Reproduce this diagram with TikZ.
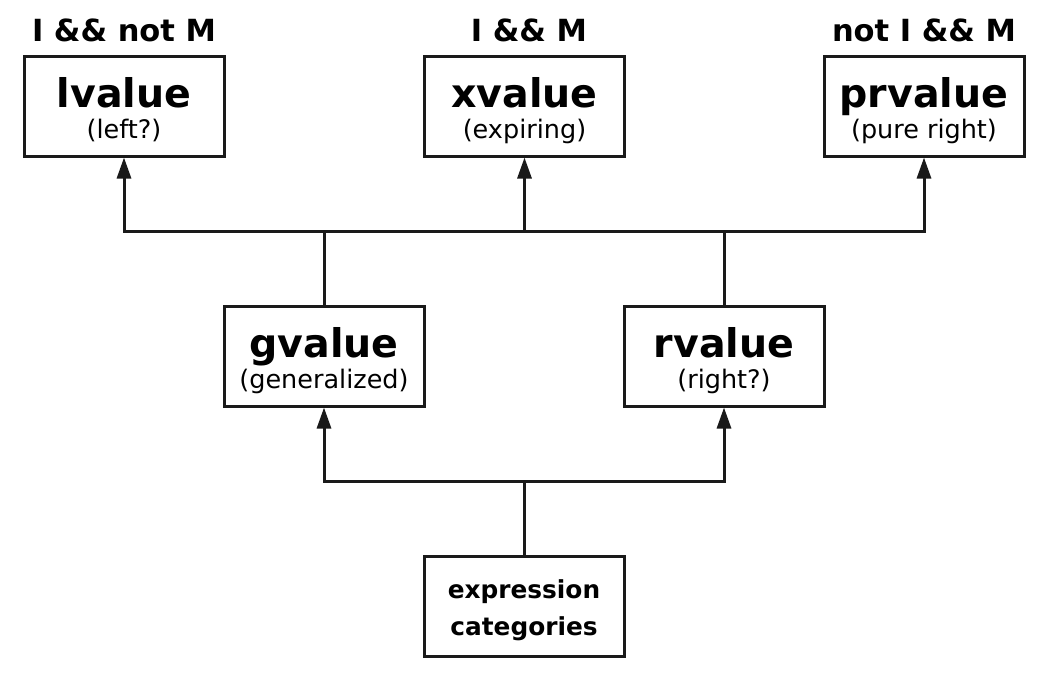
\documentclass[tikz,border=0pt]{standalone}
\usepackage{fontspec}
\setmainfont{DejaVu Sans}
\usetikzlibrary{arrows.meta}
\definecolor{ink}{HTML}{1A1A1A}
\tikzset{
  box/.style={draw=ink, line width=3pt, minimum width=200pt, minimum height=100pt, inner sep=0pt, fill=white},
  ttl/.style={anchor=base, inner sep=0pt, font=\fontsize{39.5}{44}\selectfont\bfseries},
  sub/.style={anchor=base, inner sep=0pt, font=\fontsize{25.5}{28}\selectfont},
  cond/.style={anchor=base, inner sep=0pt, font=\fontsize{30.5}{34}\selectfont\bfseries},
  small/.style={anchor=base, inner sep=0pt, font=\fontsize{24.8}{28}\selectfont\bfseries},
  wire/.style={draw=ink, line width=3pt, line cap=rect},
  arr/.style={wire, -{Triangle[length=21pt,width=14pt]}}
}
\begin{document}
\begin{tikzpicture}[x=1pt,y=-1pt]
\path[use as bounding box] (0,0) rectangle (1046,675);
% boxes
\node[box] (lv) at (124,106) {};
\node[box] (xv) at (524.5,106) {};
\node[box] (pr) at (924,106) {};
\node[box] (gv) at (324,356) {};
\node[box] (rv) at (724,356) {};
\node[box] (ec) at (524,606) {};
% texts
\node[ttl] (lvT) at (124,107) {lvalue};
\node[sub] (lvS) at (124,138.5) {(left?)};
\node[ttl] (xvT) at (524.5,107) {xvalue};
\node[sub] (xvS) at (524.5,138.5) {(expiring)};
\node[ttl] (prT) at (924,107) {prvalue};
\node[sub] (prS) at (924,138.5) {(pure right)};
\node[ttl] (gvT) at (324,357) {gvalue};
\node[sub] (gvS) at (324,388.5) {(generalized)};
\node[ttl] (rvT) at (724,357) {rvalue};
\node[sub] (rvS) at (724,388.5) {(right?)};
\node[small] (ecA) at (524,598) {expression};
\node[small] (ecB) at (524,635) {categories};
\node[cond] (c1) at (124,41) {I \&\& not M};
\node[cond] (c2) at (529,41) {I \&\& M};
\node[cond] (c3) at (924,41) {not I \&\& M};
% junction coordinates
\coordinate (t1) at (124,231);
\coordinate (t2) at (524.5,231);
\coordinate (t3) at (924,231);
\coordinate (tg) at (324,231);
\coordinate (tr) at (724,231);
\coordinate (b1) at (324,481);
\coordinate (b2) at (524,481);
\coordinate (b3) at (724,481);
% connectors
\draw[wire] (t1) -- (t3);
\draw[wire] (gv.north) -- (tg);
\draw[wire] (rv.north) -- (tr);
\draw[arr] (t1) -- (lv.south);
\draw[arr] (t2) -- (xv.south);
\draw[arr] (t3) -- (pr.south);
\draw[wire] (b1) -- (b3);
\draw[wire] (ec.north) -- (b2);
\draw[arr] (b1) -- (gv.south);
\draw[arr] (b3) -- (rv.south);
\end{tikzpicture}
\end{document}
